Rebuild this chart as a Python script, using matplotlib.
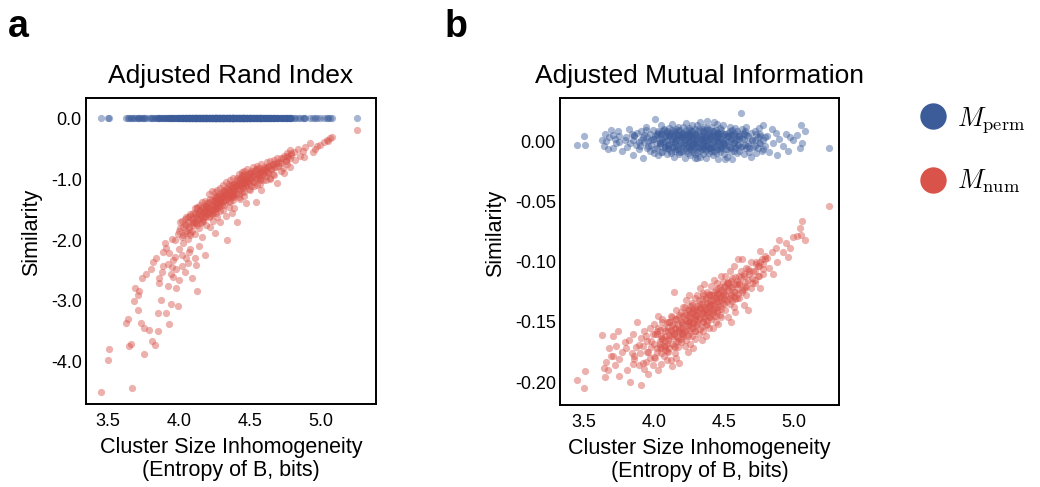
import matplotlib
matplotlib.use("Agg")
import matplotlib.pyplot as plt
from matplotlib.lines import Line2D

plt.rcParams['font.family'] = ['Liberation Sans', 'DejaVu Sans']
plt.rcParams['axes.unicode_minus'] = False
plt.rcParams['mathtext.fontset'] = 'cm'

# ---------------- data ----------------
# shared x value of each run: entropy of clustering B (bits)
entropy = [
    3.45, 3.50, 3.51,
    3.63, 3.64, 3.65, 3.66, 3.67, 3.68, 3.69,
    3.71, 3.71, 3.72, 3.73, 3.74, 3.75, 3.75, 3.77, 3.79,
    3.80, 3.81, 3.82, 3.83, 3.84, 3.85, 3.85, 3.86, 3.87, 3.88, 3.89,
    3.90, 3.91, 3.91, 3.92, 3.93, 3.93, 3.94, 3.95, 3.95, 3.96, 3.97, 3.97, 3.98, 3.99, 3.99,
    4.00, 4.00, 4.01, 4.02, 4.02, 4.03, 4.03, 4.04, 4.04, 4.05, 4.05, 4.06, 4.06, 4.07, 4.07,
    4.08, 4.08, 4.09, 4.09, 4.09, 4.10, 4.10,
    4.10, 4.11, 4.11, 4.12, 4.12, 4.12, 4.13, 4.13, 4.13, 4.14, 4.14, 4.14, 4.15, 4.15, 4.15,
    4.16, 4.16, 4.16, 4.17, 4.17, 4.17, 4.18, 4.18, 4.18, 4.19, 4.19, 4.19, 4.20,
    4.20, 4.21, 4.21, 4.21, 4.22, 4.22, 4.22, 4.23, 4.23, 4.23, 4.24, 4.24, 4.24, 4.25, 4.25, 4.25, 4.25,
    4.26, 4.26, 4.26, 4.27, 4.27, 4.27, 4.27, 4.28, 4.28, 4.28, 4.29, 4.29, 4.29, 4.29, 4.30, 4.30,
    4.30, 4.31, 4.31, 4.31, 4.32, 4.32, 4.32, 4.33, 4.33, 4.33, 4.34, 4.34, 4.34, 4.35, 4.35, 4.35, 4.35,
    4.36, 4.36, 4.36, 4.37, 4.37, 4.37, 4.37, 4.38, 4.38, 4.38, 4.39, 4.39, 4.39, 4.39, 4.40, 4.40,
    4.40, 4.41, 4.41, 4.41, 4.42, 4.42, 4.42, 4.43, 4.43, 4.43, 4.44, 4.44, 4.44, 4.45, 4.45, 4.45,
    4.46, 4.46, 4.46, 4.47, 4.47, 4.47, 4.48, 4.48, 4.48, 4.49, 4.49, 4.49, 4.50,
    4.50, 4.51, 4.51, 4.52, 4.52, 4.53, 4.53, 4.54, 4.54, 4.55, 4.55, 4.55, 4.56, 4.56, 4.57, 4.57,
    4.58, 4.58, 4.58, 4.59, 4.59, 4.60, 4.60,
    4.61, 4.61, 4.62, 4.63, 4.63, 4.64, 4.64, 4.65, 4.66, 4.66, 4.67, 4.67, 4.68, 4.69, 4.69, 4.70,
    4.71, 4.72, 4.73, 4.74, 4.75, 4.76, 4.76, 4.77, 4.78, 4.78, 4.79,
    4.81, 4.82, 4.84, 4.85, 4.87, 4.88, 4.89,
    4.92, 4.94, 4.96, 4.97, 4.99,
    5.02, 5.04, 5.05, 5.06, 5.08,
    5.25,
    # dense core
    4.01, 4.02, 4.03, 4.04, 4.05, 4.05, 4.06, 4.07, 4.08, 4.08, 4.09, 4.10,
    4.11, 4.11, 4.12, 4.13, 4.13, 4.14, 4.14, 4.15, 4.15, 4.16, 4.16, 4.17, 4.17, 4.18, 4.18, 4.19, 4.19, 4.20,
    4.20, 4.21, 4.21, 4.22, 4.22, 4.23, 4.23, 4.24, 4.24, 4.25, 4.25, 4.25, 4.26, 4.26, 4.27, 4.27,
    4.28, 4.28, 4.28, 4.29, 4.29, 4.30,
    4.30, 4.31, 4.31, 4.32, 4.32, 4.33, 4.33, 4.34, 4.34, 4.35, 4.35, 4.35, 4.36, 4.36, 4.37, 4.37,
    4.38, 4.38, 4.38, 4.39, 4.39, 4.40,
    4.41, 4.41, 4.42, 4.42, 4.43, 4.43, 4.44, 4.44, 4.45, 4.45, 4.46, 4.46, 4.47, 4.47, 4.48, 4.48, 4.49, 4.50,
    4.51, 4.51, 4.52, 4.53, 4.53, 4.54, 4.55, 4.55, 4.56, 4.57, 4.57, 4.58, 4.59, 4.60,
    4.61, 4.62, 4.63, 4.64, 4.65, 4.66, 4.68, 4.70,
    4.72, 4.73, 4.75, 4.76, 4.78, 4.79,
    # lower tail and lower band edge
    3.86, 3.89, 3.92, 3.94, 3.96, 3.98, 4.00, 4.02, 4.04, 4.06, 4.08, 4.11,
    4.42, 4.46, 4.50, 4.53, 4.57, 4.61, 4.64, 4.67, 4.72, 4.74,
]

# Adjusted Rand Index, numeric model (red, panel a)
ari_num = [
    -4.49, -3.97, -3.79,
    -3.36, -3.30, -3.74, -3.70, -4.43, -3.00, -2.78,
    -3.15, -2.90, -2.83, -3.36, -2.62, -3.45, -3.87, -2.55, -3.47,
    -2.48, -3.66, -2.36, -3.72, -2.30, -3.50, -3.20, -2.70, -2.98, -2.52, -2.20,
    -2.05, -2.13, -3.19, -2.40, -3.38, -2.22, -3.05, -2.45, -1.98, -2.60, -2.00, -2.28, -2.79, -3.08, -1.90,
    -1.85, -2.15, -1.70, -1.95, -2.42, -1.78, -2.05, -1.66, -1.88, -2.30, -1.75, -1.62, -1.98, -1.82, -2.20,
    -1.58, -1.92, -1.70, -2.62, -1.85, -1.55, -1.76,
    -1.64, -1.48, -1.90, -2.41, -1.58, -1.72, -2.84, -1.45, -1.66, -1.55, -1.80, -2.10, -1.43, -1.62, -1.50,
    -1.70, -1.38, -1.95, -1.55, -1.47, -1.66, -1.60, -1.36, -2.25, -1.52, -1.75, -1.44, -1.58,
    -1.40, -1.62, -1.25, -1.48, -1.55, -1.33, -1.78, -1.42, -1.20, -1.58, -1.36, -1.50, -1.68, -1.30, -1.45, -1.22, -1.88,
    -1.40, -1.55, -1.28, -1.35, -1.47, -1.18, -1.62, -1.32, -1.43, -1.25, -1.38, -1.52, -1.15, -1.70, -1.30, -1.42,
    -1.22, -1.36, -1.10, -1.50, -1.28, -1.18, -1.42, -1.05, -1.32, -1.60, -2.00, -1.24, -1.14, -1.30, -1.20, -1.08, -1.45,
    -1.26, -1.02, -1.38, -1.15, -1.28, -1.55, -1.10, -1.22, -0.98, -1.35, -1.18, -1.08, -1.30, -1.48, -1.12, -1.25,
    -1.08, -1.70, -1.15, -0.98, -1.25, -1.05, -0.92, -1.18, -1.32, -1.00, -1.10, -0.88, -1.22, -1.02, -1.14, -0.95,
    -1.28, -1.06, -0.86, -1.00, -1.12, -1.40, -0.94, -1.04, -0.84, -1.16, -0.96, -1.06, -0.90,
    -1.02, -0.86, -1.12, -0.95, -0.80, -1.05, -0.90, -1.37, -0.84, -0.98, -0.78, -1.10, -0.92, -0.82, -1.00, -0.88,
    -0.76, -1.18, -0.94, -0.85, -1.02, -0.80, -0.90,
    -0.82, -0.95, -0.72, -0.88, -0.78, -1.00, -0.70, -0.84, -0.76, -0.92, -0.68, -0.80, -0.74, -1.07, -0.66, -0.78,
    -0.74, -0.66, -0.82, -0.62, -0.70, -0.58, -0.76, -0.64, -0.52, -0.80, -0.61,
    -0.56, -0.68, -0.50, -0.62, -0.54, -0.63, -0.47,
    -0.41, -0.55, -0.50, -0.45, -0.44,
    -0.40, -0.36, -0.38, -0.33, -0.31,
    -0.19,
    # dense core
    -1.80, -1.68, -1.92, -1.74, -1.62, -1.85, -1.70, -1.78, -1.60, -1.88, -1.66, -1.72,
    -1.55, -1.70, -1.62, -1.48, -1.76, -1.58, -1.66, -1.52, -1.72, -1.45, -1.60, -1.54, -1.68, -1.50, -1.62, -1.42, -1.56, -1.48,
    -1.45, -1.52, -1.38, -1.46, -1.60, -1.35, -1.50, -1.42, -1.56, -1.32, -1.44, -1.52, -1.38, -1.48, -1.30, -1.42,
    -1.36, -1.28, -1.46, -1.34, -1.40, -1.26,
    -1.30, -1.24, -1.38, -1.28, -1.20, -1.34, -1.22, -1.30, -1.16, -1.26, -1.36, -1.18, -1.24, -1.12, -1.30, -1.20,
    -1.14, -1.26, -1.08, -1.18, -1.24, -1.10,
    -1.12, -1.02, -1.08, -1.16, -0.98, -1.10, -1.04, -0.94, -1.12, -1.00, -1.06, -0.92, -1.02, -1.10, -0.96, -1.04, -0.90, -1.00,
    -0.98, -0.90, -1.04, -0.94, -0.86, -1.00, -0.92, -0.84, -0.96, -0.88, -1.02, -0.86, -0.92, -0.84,
    -0.86, -0.80, -0.90, -0.78, -0.84, -0.76, -0.80, -0.72,
    -0.72, -0.66, -0.70, -0.62, -0.66, -0.58,
    # lower tail and lower band edge
    -2.62, -2.42, -2.75, -2.55, -2.32, -2.48, -2.65, -2.25, -2.52, -2.38, -2.15, -2.30,
    -1.30, -1.22, -1.18, -1.12, -1.08, -1.02, -0.98, -0.94, -0.86, -0.90,
]

# Adjusted Rand Index, permuted model (blue, panel a) -- all at 0.0
ari_perm = [
    0.0, 0.0, 0.0,
    0.0, 0.0, 0.0, 0.0, 0.0, 0.0, 0.0,
    0.0, 0.0, 0.0, 0.0, 0.0, 0.0, 0.0, 0.0, 0.0,
    0.0, 0.0, 0.0, 0.0, 0.0, 0.0, 0.0, 0.0, 0.0, 0.0, 0.0,
    0.0, 0.0, 0.0, 0.0, 0.0, 0.0, 0.0, 0.0, 0.0, 0.0, 0.0, 0.0, 0.0, 0.0, 0.0,
    0.0, 0.0, 0.0, 0.0, 0.0, 0.0, 0.0, 0.0, 0.0, 0.0, 0.0, 0.0, 0.0, 0.0, 0.0,
    0.0, 0.0, 0.0, 0.0, 0.0, 0.0, 0.0,
    0.0, 0.0, 0.0, 0.0, 0.0, 0.0, 0.0, 0.0, 0.0, 0.0, 0.0, 0.0, 0.0, 0.0, 0.0,
    0.0, 0.0, 0.0, 0.0, 0.0, 0.0, 0.0, 0.0, 0.0, 0.0, 0.0, 0.0, 0.0,
    0.0, 0.0, 0.0, 0.0, 0.0, 0.0, 0.0, 0.0, 0.0, 0.0, 0.0, 0.0, 0.0, 0.0, 0.0, 0.0, 0.0,
    0.0, 0.0, 0.0, 0.0, 0.0, 0.0, 0.0, 0.0, 0.0, 0.0, 0.0, 0.0, 0.0, 0.0, 0.0, 0.0,
    0.0, 0.0, 0.0, 0.0, 0.0, 0.0, 0.0, 0.0, 0.0, 0.0, 0.0, 0.0, 0.0, 0.0, 0.0, 0.0, 0.0,
    0.0, 0.0, 0.0, 0.0, 0.0, 0.0, 0.0, 0.0, 0.0, 0.0, 0.0, 0.0, 0.0, 0.0, 0.0, 0.0,
    0.0, 0.0, 0.0, 0.0, 0.0, 0.0, 0.0, 0.0, 0.0, 0.0, 0.0, 0.0, 0.0, 0.0, 0.0, 0.0,
    0.0, 0.0, 0.0, 0.0, 0.0, 0.0, 0.0, 0.0, 0.0, 0.0, 0.0, 0.0, 0.0,
    0.0, 0.0, 0.0, 0.0, 0.0, 0.0, 0.0, 0.0, 0.0, 0.0, 0.0, 0.0, 0.0, 0.0, 0.0, 0.0,
    0.0, 0.0, 0.0, 0.0, 0.0, 0.0, 0.0,
    0.0, 0.0, 0.0, 0.0, 0.0, 0.0, 0.0, 0.0, 0.0, 0.0, 0.0, 0.0, 0.0, 0.0, 0.0, 0.0,
    0.0, 0.0, 0.0, 0.0, 0.0, 0.0, 0.0, 0.0, 0.0, 0.0, 0.0,
    0.0, 0.0, 0.0, 0.0, 0.0, 0.0, 0.0,
    0.0, 0.0, 0.0, 0.0, 0.0,
    0.0, 0.0, 0.0, 0.0, 0.0,
    0.0,
    # dense core
    0.0, 0.0, 0.0, 0.0, 0.0, 0.0, 0.0, 0.0, 0.0, 0.0, 0.0, 0.0,
    0.0, 0.0, 0.0, 0.0, 0.0, 0.0, 0.0, 0.0, 0.0, 0.0, 0.0, 0.0, 0.0, 0.0, 0.0, 0.0, 0.0, 0.0,
    0.0, 0.0, 0.0, 0.0, 0.0, 0.0, 0.0, 0.0, 0.0, 0.0, 0.0, 0.0, 0.0, 0.0, 0.0, 0.0,
    0.0, 0.0, 0.0, 0.0, 0.0, 0.0,
    0.0, 0.0, 0.0, 0.0, 0.0, 0.0, 0.0, 0.0, 0.0, 0.0, 0.0, 0.0, 0.0, 0.0, 0.0, 0.0,
    0.0, 0.0, 0.0, 0.0, 0.0, 0.0,
    0.0, 0.0, 0.0, 0.0, 0.0, 0.0, 0.0, 0.0, 0.0, 0.0, 0.0, 0.0, 0.0, 0.0, 0.0, 0.0, 0.0, 0.0,
    0.0, 0.0, 0.0, 0.0, 0.0, 0.0, 0.0, 0.0, 0.0, 0.0, 0.0, 0.0, 0.0, 0.0,
    0.0, 0.0, 0.0, 0.0, 0.0, 0.0, 0.0, 0.0,
    0.0, 0.0, 0.0, 0.0, 0.0, 0.0,
    # lower tail and lower band edge
    0.0, 0.0, 0.0, 0.0, 0.0, 0.0, 0.0, 0.0, 0.0, 0.0, 0.0, 0.0,
    0.0, 0.0, 0.0, 0.0, 0.0, 0.0, 0.0, 0.0, 0.0, 0.0,
]

# Adjusted Mutual Information, numeric model (red, panel b)
ami_num = [
    -0.198, -0.205, -0.191,
    -0.161, -0.188, -0.196, -0.183, -0.190, -0.172, -0.178,
    -0.162, -0.178, -0.186, -0.170, -0.158, -0.181, -0.195, -0.175, -0.167,
    -0.172, -0.190, -0.165, -0.200, -0.176, -0.185, -0.160, -0.181, -0.171, -0.150, -0.186,
    -0.176, -0.163, -0.202, -0.170, -0.189, -0.158, -0.183, -0.175, -0.166, -0.193, -0.155, -0.180, -0.171, -0.186, -0.160,
    -0.168, -0.152, -0.180, -0.160, -0.175, -0.145, -0.190, -0.166, -0.157, -0.172, -0.185, -0.148, -0.163, -0.178, -0.155,
    -0.170, -0.162, -0.182, -0.150, -0.168, -0.158, -0.175,
    -0.165, -0.150, -0.172, -0.182, -0.158, -0.145, -0.187, -0.162, -0.153, -0.125, -0.170, -0.160, -0.148, -0.176, -0.156,
    -0.166, -0.140, -0.180, -0.152, -0.163, -0.171, -0.146, -0.158, -0.184, -0.155, -0.167, -0.142, -0.160,
    -0.150, -0.162, -0.138, -0.155, -0.170, -0.143, -0.158, -0.132, -0.165, -0.149, -0.140, -0.175, -0.153, -0.145, -0.128, -0.160, -0.150,
    -0.137, -0.168, -0.146, -0.155, -0.134, -0.162, -0.142, -0.151, -0.172, -0.139, -0.148, -0.158, -0.130, -0.164, -0.144, -0.153,
    -0.140, -0.152, -0.128, -0.145, -0.160, -0.135, -0.148, -0.122, -0.156, -0.138, -0.165, -0.143, -0.131, -0.150, -0.126, -0.141, -0.158,
    -0.136, -0.147, -0.119, -0.153, -0.139, -0.130, -0.162, -0.144, -0.125, -0.149, -0.137, -0.155, -0.128, -0.142, -0.133, -0.146,
    -0.135, -0.148, -0.120, -0.140, -0.128, -0.155, -0.132, -0.115, -0.145, -0.136, -0.124, -0.150, -0.130, -0.142, -0.118, -0.138,
    -0.127, -0.152, -0.133, -0.121, -0.144, -0.129, -0.112, -0.139, -0.146, -0.125, -0.134, -0.117, -0.131,
    -0.126, -0.140, -0.112, -0.131, -0.118, -0.146, -0.122, -0.135, -0.108, -0.128, -0.150, -0.116, -0.133, -0.121, -0.104, -0.138,
    -0.125, -0.113, -0.142, -0.119, -0.130, -0.098, -0.127,
    -0.118, -0.130, -0.108, -0.098, -0.125, -0.112, -0.136, -0.120, -0.105, -0.128, -0.115, -0.140, -0.110, -0.122, -0.100, -0.118,
    -0.108, -0.118, -0.100, -0.112, -0.104, -0.091, -0.122, -0.098, -0.110, -0.102, -0.095,
    -0.097, -0.105, -0.092, -0.110, -0.089, -0.100, -0.082,
    -0.092, -0.085, -0.096, -0.089, -0.080,
    -0.079, -0.072, -0.078, -0.066, -0.082,
    -0.054,
    # dense core
    -0.160, -0.172, -0.155, -0.168, -0.176, -0.162, -0.150, -0.170, -0.158, -0.166, -0.174, -0.154,
    -0.150, -0.163, -0.157, -0.168, -0.146, -0.160, -0.152, -0.171, -0.155, -0.162, -0.148, -0.158, -0.166, -0.144, -0.156, -0.164, -0.150, -0.159,
    -0.152, -0.145, -0.160, -0.148, -0.138, -0.156, -0.144, -0.151, -0.162, -0.140, -0.149, -0.157, -0.143, -0.153, -0.136, -0.147,
    -0.155, -0.141, -0.150, -0.145, -0.158, -0.139,
    -0.144, -0.137, -0.150, -0.141, -0.132, -0.147, -0.139, -0.154, -0.135, -0.143, -0.128, -0.149, -0.138, -0.145, -0.131, -0.140,
    -0.152, -0.134, -0.142, -0.127, -0.146, -0.136,
    -0.136, -0.128, -0.142, -0.131, -0.125, -0.139, -0.133, -0.145, -0.127, -0.135, -0.122, -0.140, -0.130, -0.137, -0.124, -0.132, -0.128, -0.121,
    -0.128, -0.120, -0.133, -0.124, -0.117, -0.130, -0.121, -0.127, -0.114, -0.125, -0.119, -0.131, -0.116, -0.122,
    -0.119, -0.113, -0.124, -0.110, -0.117, -0.121, -0.108, -0.114,
    -0.108, -0.102, -0.112, -0.100, -0.106, -0.098,
    # lower tail and lower band edge
    -0.178, -0.169, -0.184, -0.162, -0.175, -0.166, -0.179, -0.158, -0.171, -0.164, -0.173, -0.161,
    -0.141, -0.126, -0.135, -0.118, -0.129, -0.112, -0.123, -0.106, -0.115, -0.104,
]

# Adjusted Mutual Information, permuted model (blue, panel b)
ami_perm = [
    -0.003, 0.004, -0.003,
    0.001, -0.004, 0.006, 0.000, -0.007, 0.003, 0.009,
    -0.006, 0.005, 0.002, -0.002, 0.008, -0.001, 0.004, -0.008, 0.001,
    0.003, -0.005, 0.010, -0.002, 0.006, -0.012, 0.001, 0.004, -0.003, 0.007, -0.001,
    -0.004, 0.008, 0.001, -0.014, 0.005, -0.001, 0.012, -0.006, 0.003, 0.000, -0.008, 0.006, -0.003, 0.009, 0.002,
    0.002, -0.007, 0.018, -0.002, 0.005, -0.012, 0.007, 0.000, -0.004, 0.013, 0.003, -0.009, 0.006, -0.001, 0.009,
    -0.005, 0.004, -0.011, 0.001, 0.008, -0.003, 0.005,
    -0.006, 0.004, 0.011, -0.002, 0.007, -0.010, 0.000, 0.014, -0.005, 0.003, -0.013, 0.008, -0.001, 0.006, -0.008,
    0.010, 0.002, -0.004, 0.012, -0.007, 0.005, -0.011, 0.001, 0.009, -0.003, 0.004, -0.009, 0.007,
    0.003, -0.008, 0.012, -0.003, 0.006, -0.014, 0.001, 0.009, -0.006, 0.015, -0.001, 0.004, -0.010, 0.007, -0.004, 0.011, 0.000,
    -0.012, 0.005, -0.007, 0.013, 0.002, -0.005, 0.008, -0.009, 0.003, -0.002, 0.010, -0.011, 0.006, -0.014, 0.001, 0.004,
    -0.002, -0.014, -0.009, 0.013, 0.000, -0.005, 0.010, -0.013, 0.004, 0.016, -0.007, 0.002, -0.003, 0.008, -0.011, 0.005, -0.001,
    0.012, -0.006, 0.003, -0.014, 0.009, 0.001, -0.008, 0.017, -0.004, 0.011, -0.010, 0.002, 0.007, -0.002, 0.004, -0.006,
    0.005, -0.008, 0.012, -0.003, 0.008, -0.012, 0.001, 0.016, -0.005, 0.004, -0.010, 0.009, -0.001, 0.014, -0.007, 0.003,
    -0.015, 0.006, 0.000, -0.004, 0.011, -0.009, 0.002, 0.007, -0.006, 0.013, -0.002, 0.004, -0.011,
    -0.003, -0.015, -0.007, 0.004, -0.013, 0.007, 0.000, -0.005, 0.012, -0.009, 0.002, 0.006, -0.015, 0.009, -0.001, 0.005,
    -0.006, 0.011, 0.001, -0.010, 0.008, -0.003, 0.004,
    0.006, -0.008, 0.023, -0.004, 0.010, -0.011, 0.002, 0.008, -0.006, 0.012, -0.002, 0.004, -0.009, 0.007, -0.013, 0.001,
    -0.005, 0.008, -0.010, 0.003, 0.011, -0.002, 0.006, -0.008, 0.001, 0.013, -0.004,
    0.004, -0.009, 0.010, -0.002, 0.007, -0.012, 0.002,
    -0.004, 0.006, -0.008, 0.003, 0.001,
    0.005, -0.006, 0.013, -0.002, 0.008,
    -0.006,
    # dense core
    0.004, -0.006, 0.008, -0.002, 0.006, -0.009, 0.002, 0.010, -0.004, 0.000, 0.007, -0.007,
    -0.003, 0.006, -0.008, 0.002, 0.009, -0.005, 0.004, -0.001, 0.007, -0.007, 0.001, 0.005, -0.004, 0.008, -0.009, 0.003, -0.002, 0.006,
    0.002, -0.005, 0.007, -0.002, 0.004, -0.008, 0.001, 0.006, -0.004, 0.009, -0.001, 0.003, -0.006, 0.005, -0.003, 0.008,
    0.000, -0.007, 0.004, -0.002, 0.006, -0.005,
    -0.004, 0.005, -0.001, 0.008, -0.006, 0.002, -0.008, 0.004, 0.010, -0.003, 0.001, -0.005, 0.007, -0.002, 0.003, -0.007,
    0.006, 0.000, -0.004, 0.009, -0.006, 0.002,
    0.003, -0.006, 0.006, -0.002, 0.008, -0.008, 0.001, 0.005, -0.004, 0.007, -0.001, 0.004, -0.007, 0.002, 0.009, -0.005, 0.000, 0.006,
    -0.002, 0.006, -0.007, 0.003, -0.004, 0.008, 0.000, -0.006, 0.005, -0.002, 0.007, -0.005, 0.002, -0.003,
    0.004, -0.005, 0.002, 0.007, -0.003, 0.005, -0.006, 0.001,
    -0.004, 0.006, -0.002, 0.004, -0.007, 0.003,
    # lower tail and lower band edge
    0.005, -0.007, 0.003, 0.009, -0.004, 0.001, -0.010, 0.006, -0.002, 0.008, -0.006, 0.004,
    -0.005, 0.007, -0.002, 0.004, -0.008, 0.002, 0.006, -0.004, 0.001, -0.006,
]

x_ticks = [3.5, 4.0, 4.5, 5.0]
x_tick_labels = ['3.5', '4.0', '4.5', '5.0']
ari_ticks = [0.0, -1.0, -2.0, -3.0, -4.0]
ari_tick_labels = ['0.0', '-1.0', '-2.0', '-3.0', '-4.0']
ami_ticks = [0.0, -0.05, -0.10, -0.15, -0.20]
ami_tick_labels = ['0.00', '-0.05', '-0.10', '-0.15', '-0.20']
panel_titles = ['Adjusted Rand Index', 'Adjusted Mutual Information']
panel_letters = ['a', 'b']
x_label = 'Cluster Size Inhomogeneity\n(Entropy of B, bits)'
y_label = 'Similarity'
series_labels = [r'$M_{\rm perm}$', r'$M_{\rm num}$']

# ---------------- style ----------------
BLUE = '#3b5b99'
RED = '#d9534a'
W, H = 1040, 487


def px_box(left, top, right, bottom):
    return [left / W, 1 - bottom / H, (right - left) / W, (bottom - top) / H]


fig = plt.figure(figsize=(W / 100, H / 100), dpi=100)
fig.patch.set_facecolor('white')

ax_a = fig.add_axes(px_box(86, 98, 376, 404))
ax_b = fig.add_axes(px_box(560, 98, 839, 405))

panels = [
    (ax_a, ari_perm, ari_num, ari_ticks, ari_tick_labels, (3.345, 5.387), (-4.69, 0.33)),
    (ax_b, ami_perm, ami_num, ami_ticks, ami_tick_labels, (3.329, 5.321), (-0.219, 0.0357)),
]

for i, (ax, perm, num, yt, ytl, xl, yl) in enumerate(panels):
    ax.scatter(entropy, num, s=27, color=RED, alpha=0.45, linewidths=0, zorder=2)
    ax.scatter(entropy, perm, s=27, color=BLUE, alpha=0.45, linewidths=0, zorder=3)
    ax.set_xlim(*xl)
    ax.set_ylim(*yl)
    ax.set_xticks(x_ticks)
    ax.set_xticklabels(x_tick_labels)
    ax.set_yticks(yt)
    ax.set_yticklabels(ytl)
    ax.tick_params(axis='both', length=0, labelsize=13, colors='black')
    ax.tick_params(axis='x', pad=6.5)
    ax.tick_params(axis='y', pad=3)
    for sp in ax.spines.values():
        sp.set_color('black')
        sp.set_linewidth(1.4)
    ax.set_title(panel_titles[i], fontsize=19, pad=11)
    ax.set_xlabel(x_label, fontsize=15.5, linespacing=1.1, labelpad=5)
    ax.set_ylabel(y_label, fontsize=15.5)

ax_a.yaxis.set_label_coords(-0.153, 0.56)
ax_b.yaxis.set_label_coords(-0.195, 0.56)

fig.text(8 / W, 1 - 37 / H, panel_letters[0], fontsize=27, fontweight='bold',
         ha='left', va='baseline')
fig.text(445 / W, 1 - 37 / H, panel_letters[1], fontsize=27, fontweight='bold',
         ha='left', va='baseline')

handles = [
    Line2D([], [], marker='o', linestyle='none', markersize=19,
           markerfacecolor=BLUE, markeredgewidth=0),
    Line2D([], [], marker='o', linestyle='none', markersize=19,
           markerfacecolor=RED, markeredgewidth=0),
]
fig.legend(handles, series_labels, loc='upper left',
           bbox_to_anchor=(916 / W, 1 - 105 / H), frameon=False, fontsize=19,
           labelspacing=1.25, handlelength=1.29, handletextpad=0.27,
           borderpad=0, borderaxespad=0)

fig.savefig('out.png', dpi=100)
